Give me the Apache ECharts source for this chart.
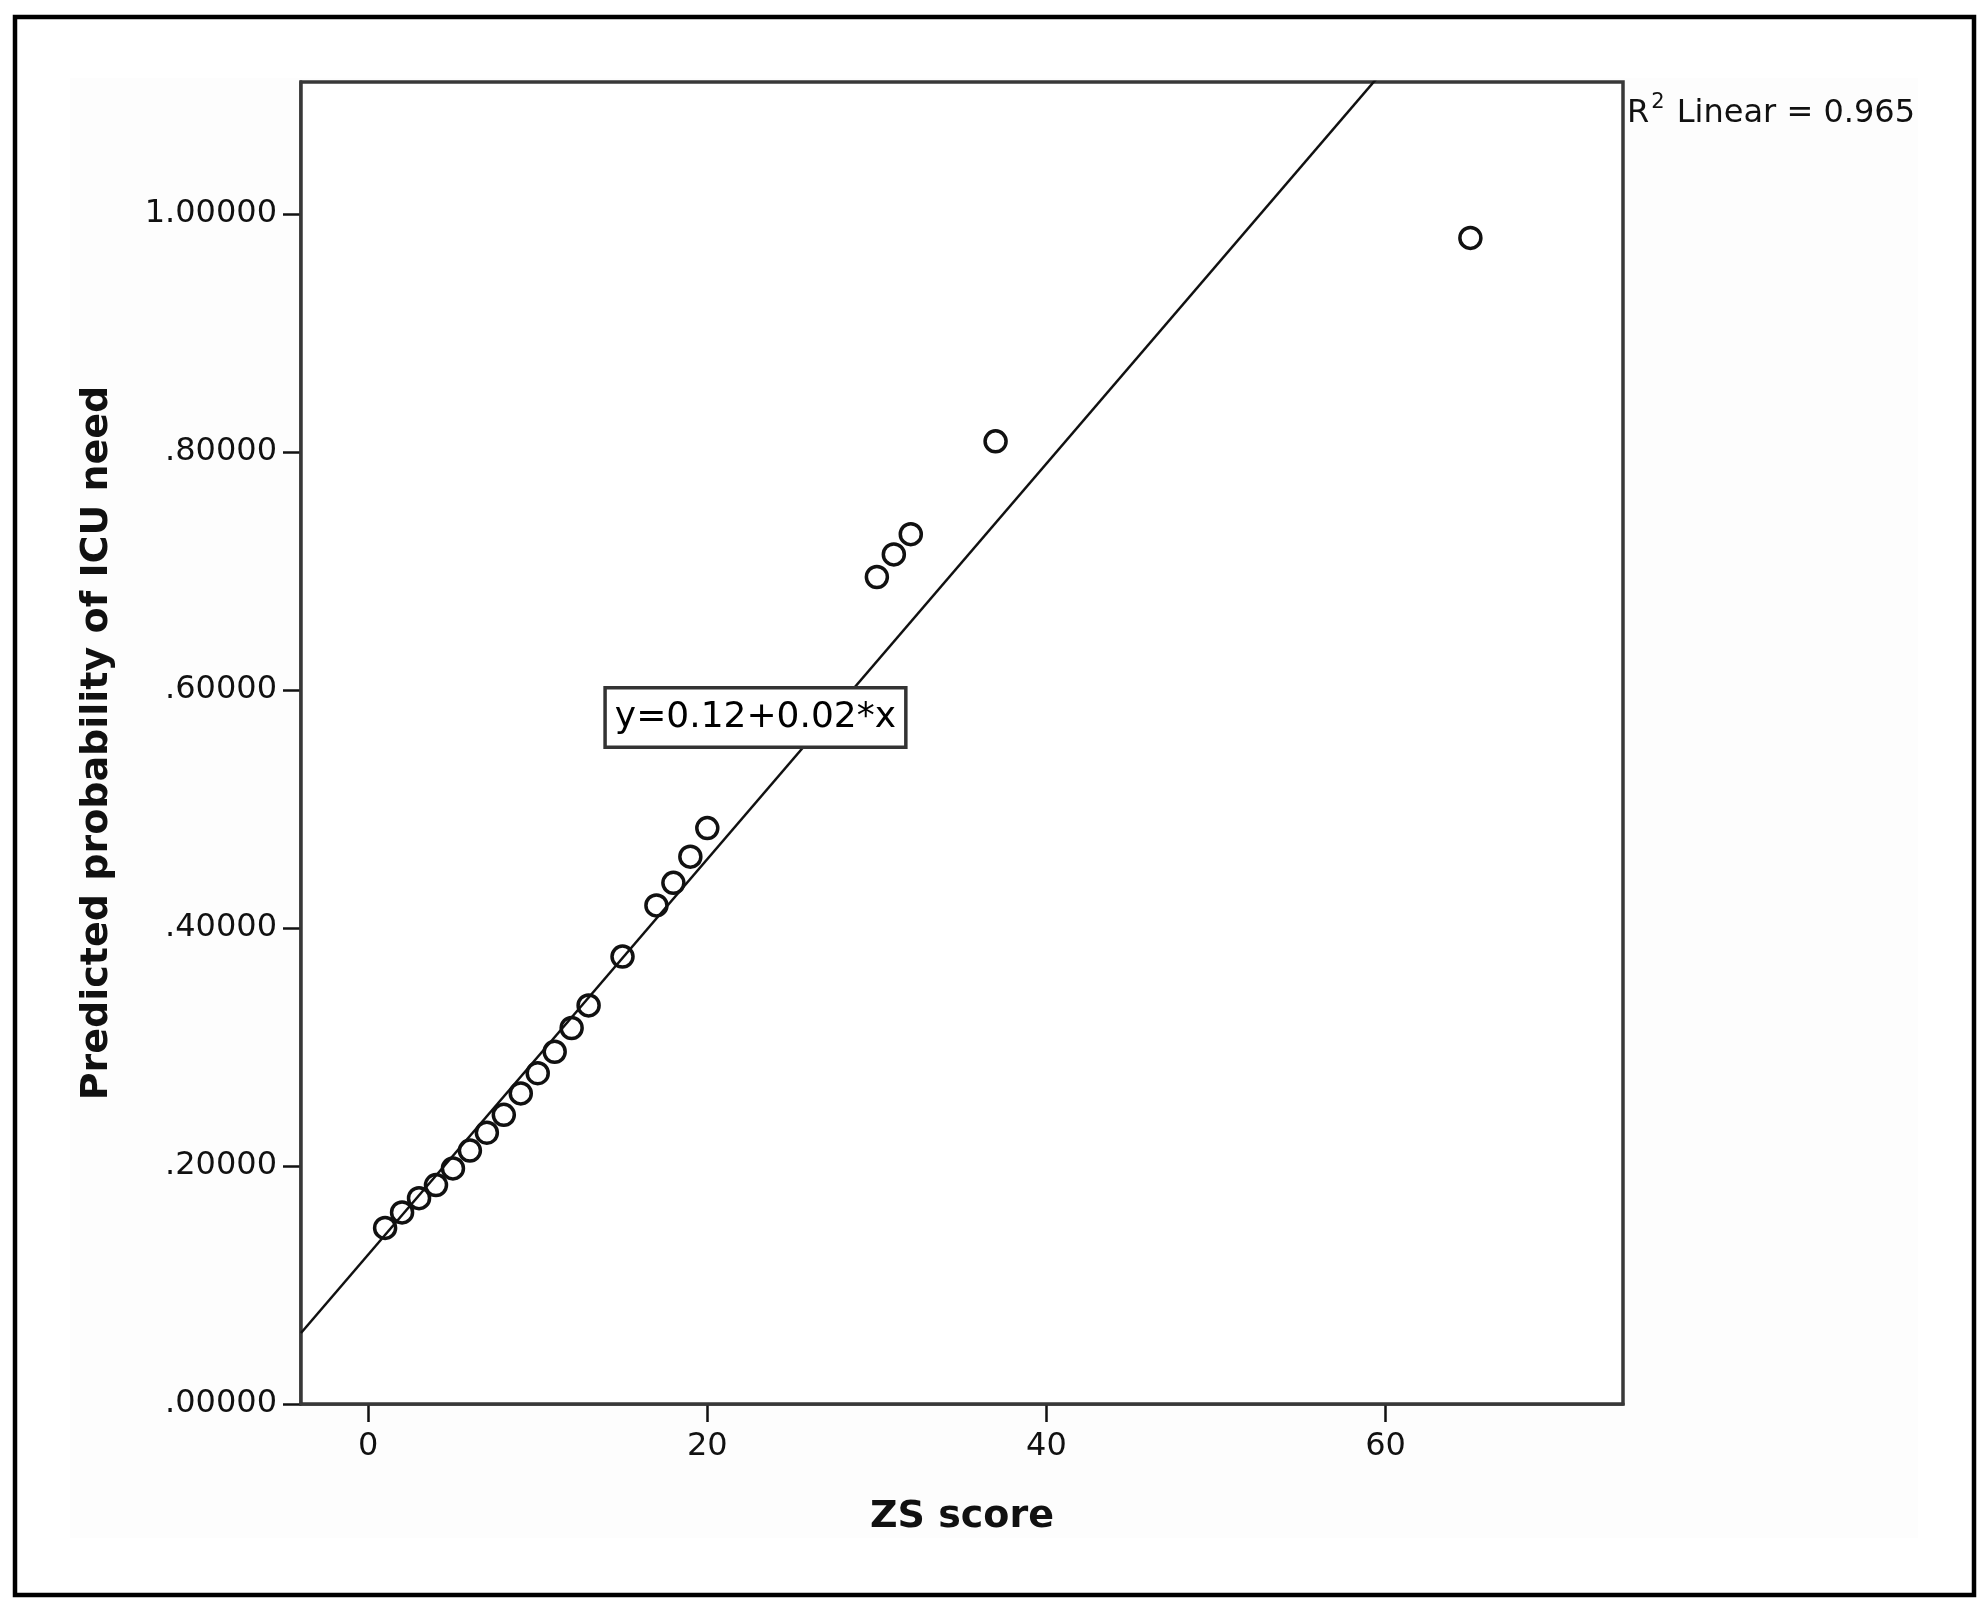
<!DOCTYPE html>
<html>
<head>
<meta charset="utf-8">
<title>ZS score vs predicted probability of ICU need</title>
<script src="https://cdn.jsdelivr.net/npm/echarts@6.0.0/dist/echarts.min.js"></script>
<style>
  html, body { margin: 0; padding: 0; background: #ffffff; }
  #chart { width: 1984px; height: 1612px; }
</style>
</head>
<body>
<div id="chart"></div>
<script>
  // data
  var zsScore = [1, 2, 3, 4, 5, 6, 7, 8, 9, 10, 11, 12, 13, 15, 17, 18, 19, 20, 30, 31, 32, 37, 65]
  var probIcu = [0.148, 0.161, 0.173, 0.184, 0.198, 0.213, 0.228, 0.243, 0.261, 0.278, 0.296, 0.316, 0.335,
    0.376, 0.419, 0.438, 0.460, 0.484, 0.695, 0.714, 0.731, 0.809, 0.980]
  var xTicks = [0, 20, 40, 60]
  var yTicks = [0, 0.2, 0.4, 0.6, 0.8, 1.0]

  // fit line as drawn (label rounds it)
  var fitIntercept = 0.1255
  var fitSlope = 0.01662
  var fitLabel = 'y=0.12+0.02*x'
  var r2Value = '0.965'
  var labelAt = [22.84, 0.577]

  var xMin = -3.96
  var xMax = 74.0
  var yMin = 0
  var yMax = 1.111

  var points = zsScore.map(function (x, i) { return [x, probIcu[i]] })
  var fitLine = [xMin, xMax].map(function (x) { return [x, fitIntercept + fitSlope * x] })

  var font = 'DejaVu Sans'
  var ink = '#111111'
  var frame = '#383838'

  var chart = echarts.init(document.getElementById('chart'))
  chart.setOption({
    animation: false,
    backgroundColor: '#ffffff',
    grid: {
      left: 301,
      right: 361,
      top: 82,
      bottom: 208,
      show: true,
      borderColor: frame,
      borderWidth: 3.5,
      backgroundColor: '#ffffff',
      z: 1
    },
    graphic: [
      {
        type: 'rect',
        z: -10,
        shape: { x: 70, y: 78, width: 1848, height: 1460 },
        style: { fill: '#fdfdfd', stroke: null }
      },
      {
        type: 'rect',
        z: 10,
        shape: { x: 15, y: 17, width: 1959, height: 1578 },
        style: { fill: null, stroke: '#000000', lineWidth: 4.5 }
      },
      {
        type: 'text',
        z: 10,
        left: 1627,
        top: 92,
        style: {
          text: '{r|R}{sup|2}{r| Linear = ' + r2Value + '}',
          rich: {
            r: { fontFamily: font, fontSize: 32, fill: ink, lineHeight: 38, verticalAlign: 'bottom' },
            sup: { fontFamily: font, fontSize: 21, fill: ink, lineHeight: 38, verticalAlign: 'top', padding: [0, 2, 0, 2] }
          }
        }
      }
    ],
    xAxis: {
      type: 'value',
      min: xMin,
      max: xMax,
      name: 'ZS score',
      nameLocation: 'middle',
      nameGap: 94,
      nameTextStyle: { fontFamily: font, fontSize: 38, fontWeight: 'bold', color: ink },
      splitLine: { show: false },
      axisLine: { show: true, onZero: false, lineStyle: { color: frame, width: 3.5 } },
      axisTick: { show: true, length: 18, customValues: xTicks, lineStyle: { color: ink, width: 2.5 } },
      axisLabel: {
        customValues: xTicks,
        margin: 27,
        fontFamily: font,
        fontSize: 32,
        color: ink
      }
    },
    yAxis: {
      type: 'value',
      min: yMin,
      max: yMax,
      name: 'Predicted probability of ICU need',
      nameLocation: 'middle',
      nameGap: 185,
      nameTextStyle: { fontFamily: font, fontSize: 38, fontWeight: 'bold', color: ink },
      splitLine: { show: false },
      axisLine: { show: true, onZero: false, lineStyle: { color: frame, width: 3.5 } },
      axisTick: { show: true, length: 18, customValues: yTicks, lineStyle: { color: ink, width: 2.5 } },
      axisLabel: {
        customValues: yTicks,
        margin: 24,
        fontFamily: font,
        fontSize: 32,
        color: ink,
        formatter: function (v) {
          var s = v.toFixed(5)
          return v < 1 ? s.slice(1) : s
        }
      }
    },
    series: [
      {
        name: 'fit',
        type: 'line',
        data: fitLine,
        symbol: 'none',
        clip: true,
        silent: true,
        lineStyle: { color: '#111111', width: 2.5 },
        z: 3
      },
      {
        name: 'cases',
        type: 'scatter',
        data: points,
        symbol: 'circle',
        symbolSize: 21,
        itemStyle: { color: 'rgba(255,255,255,0)', borderColor: '#111111', borderWidth: 3.5, opacity: 1 },
        z: 4
      },
      {
        name: 'fit label',
        type: 'scatter',
        data: [labelAt],
        symbolSize: 0,
        silent: true,
        z: 6,
        itemStyle: { opacity: 1 },
        label: {
          show: true,
          position: 'inside',
          formatter: fitLabel,
          fontFamily: font,
          fontSize: 36,
          color: '#000000',
          textBorderWidth: 0,
          backgroundColor: '#ffffff',
          borderColor: '#333333',
          borderWidth: 3.5,
          padding: [8, 8, 6, 8],
          lineHeight: 42
        }
      }
    ]
  })
</script>
</body>
</html>
